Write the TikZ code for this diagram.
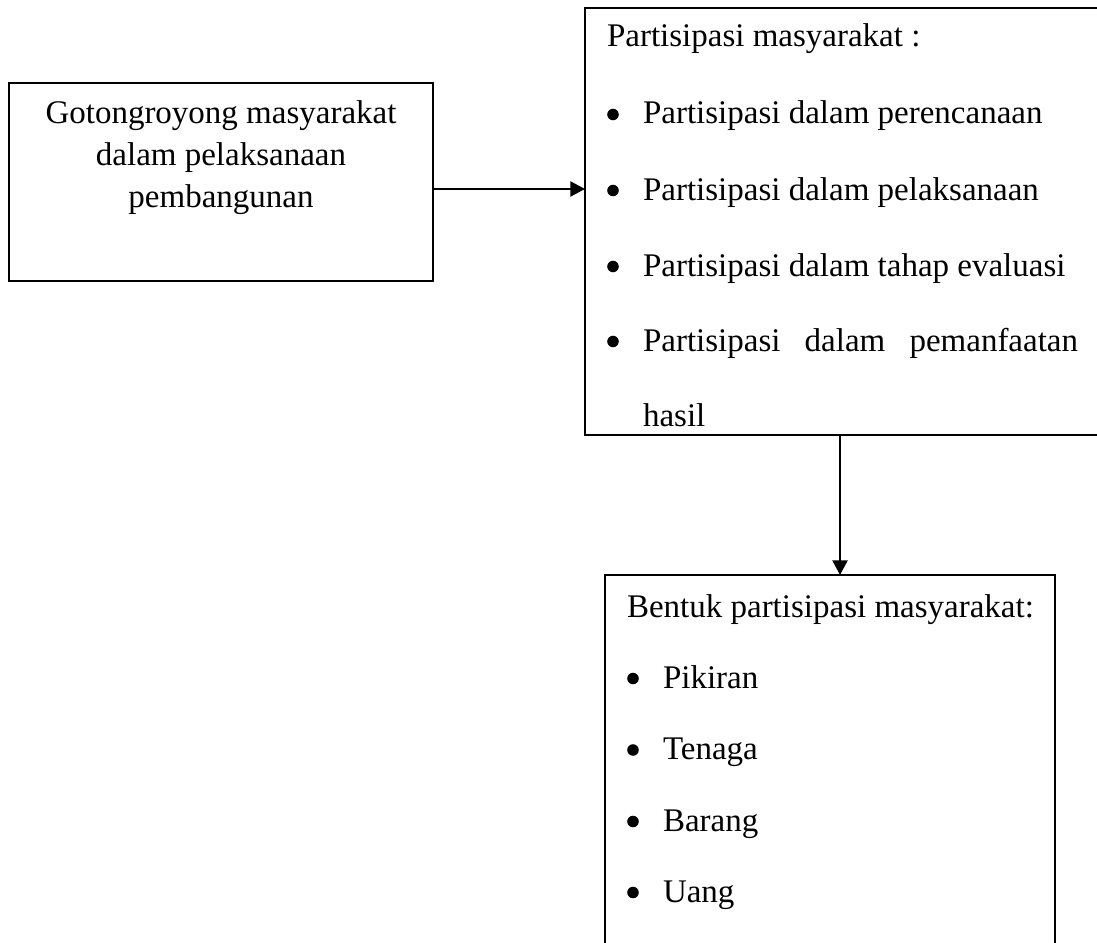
\documentclass[tikz,border=0pt]{standalone}
\usepackage{fontspec}
\setmainfont{Liberation Serif}
\usetikzlibrary{arrows.meta,fit}
\begin{document}
\begin{tikzpicture}[x=0.363636pt,y=-0.363636pt,
  box/.style={draw,line width=0.75pt,inner sep=0pt,outer sep=0pt},
  txt/.style={inner sep=0pt,outer sep=0pt,anchor=base west,font=\fontsize{12}{14}\selectfont},
  ctxt/.style={inner sep=0pt,outer sep=0pt,anchor=base,font=\fontsize{12}{14}\selectfont},
  conn/.style={line width=0.9pt,-{Triangle[length=5.3pt,width=5.4pt]}},
  bul/.style={circle,fill,inner sep=0pt,minimum size=4.2pt}]
\useasboundingbox (0,0) rectangle (1097,942);
% boxes
\node[box,fit={(9,83) (433,281)}] (b1) {};
\node[box,fit={(585,8) (1115,435)}] (b2) {};
\node[box,fit={(605,575) (1055,960)}] (b3) {};
% box 1 text
\node[ctxt] (t11) at (221,124) {Gotongroyong masyarakat};
\node[ctxt] (t12) at (221,166) {dalam pelaksanaan};
\node[ctxt] (t13) at (221,208) {pembangunan};
% box 2 text
\node[txt] (t20) at (607,47) {Partisipasi masyarakat :};
\node[bul] (u21) at (613,114.5) {};
\node[txt] (t21) at (643,124) {Partisipasi dalam perencanaan};
\node[bul] (u22) at (613,190.5) {};
\node[txt] (t22) at (643,200) {Partisipasi dalam pelaksanaan};
\node[bul] (u23) at (613,266.5) {};
\node[txt] (t23) at (643,276) {Partisipasi dalam tahap evaluasi};
\node[bul] (u24) at (613,341.5) {};
\node[txt] (t24) at (643,351) {\makebox[158.2pt][s]{Partisipasi dalam pemanfaatan}};
\node[txt] (t25) at (643,426) {hasil};
% box 3 text
\node[txt] (t30) at (627,617) {Bentuk partisipasi masyarakat:};
\node[bul] (u31) at (633,678.5) {};
\node[txt] (t31) at (663,688) {Pikiran};
\node[bul] (u32) at (633,750) {};
\node[txt] (t32) at (663,759.5) {Tenaga};
\node[bul] (u33) at (633,821.5) {};
\node[txt] (t33) at (663,831) {Barang};
\node[bul] (u34) at (633,892.5) {};
\node[txt] (t34) at (663,902) {Uang};
% connectors
\coordinate (a1) at (0,189);
\coordinate (a2) at (840,0);
\draw[conn] (b1.east |- a1) -- (b2.west |- a1);
\draw[conn] (b2.south -| a2) -- (b3.north -| a2);
\end{tikzpicture}
\end{document}
